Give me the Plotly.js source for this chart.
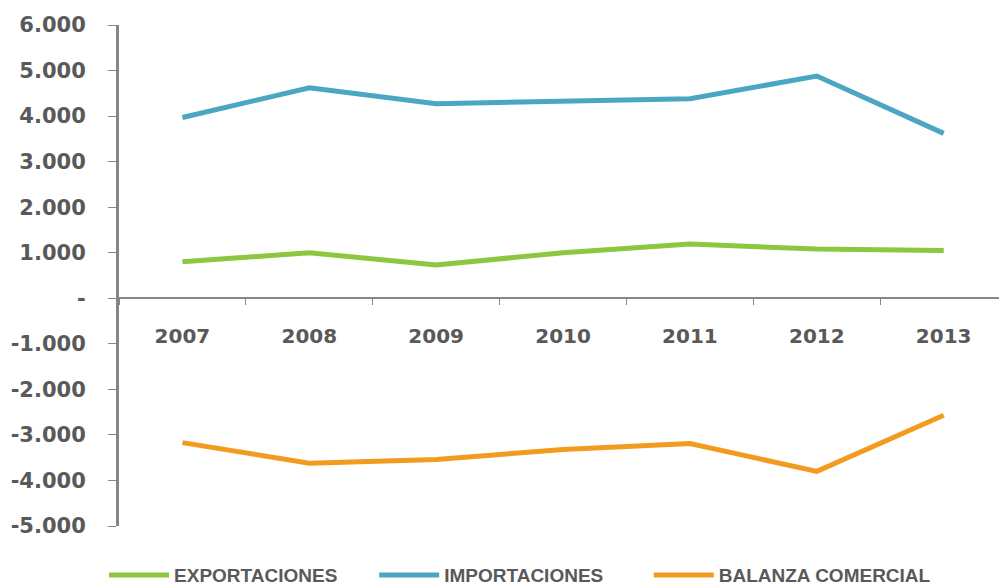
<!DOCTYPE html>
<html>
<head>
<meta charset="utf-8">
<script src="https://cdn.plot.ly/plotly-3.0.1.min.js"></script>
<style>html,body{margin:0;padding:0;background:#fff;}#chart{width:999px;height:588px;}</style>
</head>
<body>
<div id="chart"></div>
<script>
var years = ["2007", "2008", "2009", "2010", "2011", "2012", "2013"];
var exportaciones = [800, 1000, 730, 1000, 1190, 1080, 1050];
var importaciones = [3970, 4620, 4270, 4320, 4380, 4880, 3620];
var balanza = [-3170, -3620, -3540, -3320, -3190, -3800, -2570];
var yTickVals = [6000, 5000, 4000, 3000, 2000, 1000, 0, -1000, -2000, -3000, -4000, -5000];
var yTickText = ["6.000", "5.000", "4.000", "3.000", "2.000", "1.000", "-", "-1.000", "-2.000", "-3.000", "-4.000", "-5.000"];

var axisGray = "#868686";
var textGray = "#595959";

var traces = [
  {x: years, y: exportaciones, name: "EXPORTACIONES", type: "scatter", mode: "lines",
   line: {color: "#8DC63F", width: 5}, legend: "legend"},
  {x: years, y: importaciones, name: "IMPORTACIONES", type: "scatter", mode: "lines",
   line: {color: "#4BA6C1", width: 5}, legend: "legend2"},
  {x: years, y: balanza, name: "BALANZA COMERCIAL", type: "scatter", mode: "lines",
   line: {color: "#F29B1F", width: 5}, legend: "legend3"}
];

function legendAt(xPos) {
  return {
    orientation: "h", x: xPos, xanchor: "left", y: -0.098, yanchor: "middle",
    xref: "paper", yref: "paper", itemwidth: 60,
    font: {family: "Liberation Sans", size: 19, color: textGray, weight: "bold"},
    bgcolor: "rgba(0,0,0,0)", itemclick: false
  };
}

var layout = {
  width: 999, height: 588,
  margin: {l: 119, r: 0, t: 25, b: 62, pad: 0, autoexpand: false},
  paper_bgcolor: "#fff", plot_bgcolor: "#fff",
  showlegend: true,
  legend: legendAt(-0.017),
  legend2: legendAt(0.290),
  legend3: legendAt(0.602),
  xaxis: {
    type: "category", range: [-0.5, 6.436], fixedrange: true,
    anchor: "free", position: 5/11,
    showline: true, linecolor: axisGray, linewidth: 2,
    showgrid: false, zeroline: false,
    ticks: "outside", tickson: "boundaries", ticklen: 6, tickcolor: axisGray, tickwidth: 1,
    ticklabelstandoff: 20,
    tickfont: {family: "DejaVu Sans", size: 20, color: textGray, weight: "bold"}
  },
  yaxis: {
    range: [-5000, 6000], fixedrange: true,
    showline: true, linecolor: axisGray, linewidth: 3,
    showgrid: false, zeroline: false,
    tickmode: "array", tickvals: yTickVals, ticktext: yTickText,
    ticks: "outside", ticklen: 8, tickcolor: axisGray, tickwidth: 1,
    ticklabelstandoff: 18,
    tickfont: {family: "DejaVu Sans", size: 21, color: textGray, weight: "bold"}
  }
};

Plotly.newPlot("chart", traces, layout, {displayModeBar: false, staticPlot: true});
</script>
</body>
</html>
